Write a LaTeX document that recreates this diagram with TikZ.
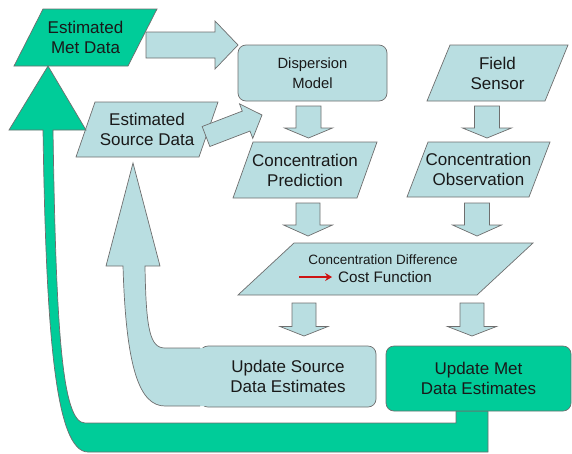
\documentclass[tikz,border=0pt]{standalone}
\usepackage{fontspec}
\setmainfont{Liberation Sans}
\usetikzlibrary{calc,backgrounds,arrows.meta}

\definecolor{paleblue}{RGB}{185,222,225}
\definecolor{mint}{RGB}{0,204,153}
\definecolor{edgegray}{RGB}{110,110,110}
\definecolor{ink}{RGB}{25,25,25}
\definecolor{costred}{RGB}{205,20,20}

\tikzset{
  shapebox/.style={inner sep=0pt, outer sep=0pt, text=ink, align=center,
                   font=\fontsize{17}{20}\selectfont},
  roundbox/.style={shapebox, draw=edgegray, line width=0.7pt, rounded corners=8pt},
  outline/.style={draw=edgegray, line width=0.7pt, line join=miter},
  flow/.style={outline, fill=paleblue},
  loopgreen/.style={outline, fill=mint},
  costarrow/.style={draw=costred, line width=2.4pt, -{Stealth[length=7pt,width=8pt]}},
}

% parallelogram drawn round a rectangular node: node name, slant, fill
\newcommand\slantbox[3]{%
  \draw[outline, fill=#3] ($(#1.north west)+(#2,0)$) -- (#1.north east)
    -- ($(#1.south east)-(#2,0)$) -- (#1.south west) -- cycle;}

% straight block arrow: tail, tip, body half width, head half width, head length
\newcommand\blockarrow[5]{%
  \coordinate (bahead) at ($(#2)!#5!(#1)$);
  \draw[flow] ($(#1)!#3!90:(#2)$) -- ($(bahead)!#3!-90:(#1)$)
    -- ($(bahead)!#4!-90:(#1)$) -- (#2) -- ($(bahead)!#4!90:(#1)$)
    -- ($(bahead)!#3!90:(#1)$) -- ($(#1)!#3!-90:(#2)$) -- cycle;}

\begin{document}
\begin{tikzpicture}[x=1pt,y=-1pt]
\useasboundingbox (0,0) rectangle (572,453);

% green feedback loop from the met update back to the met data
\draw[loopgreen] (43,130) .. controls (46,330) and (55,452) .. (88,452)
  -- (488,452) -- (488,411) -- (456,411) -- (456,423) -- (85,423)
  .. controls (62,423) and (56,330) .. (53,130)
  -- (86,130) -- (48,66) -- (9,130) -- cycle;

% boxes
\node[shapebox, minimum width=143pt, minimum height=57pt] (met) at (85.5,37.5) {Estimated\\Met Data};
\node[shapebox, minimum width=142pt, minimum height=55pt] (src) at (147,129.5) {Estimated\\Source Data};
\node[roundbox, fill=paleblue, minimum width=149pt, minimum height=56pt,
      font=\fontsize{14.8}{20}\selectfont] (disp) at (312.5,73) {Dispersion\\Model};
\node[shapebox, minimum width=141pt, minimum height=56pt] (field) at (497.5,73) {Field\\Sensor};
\node[shapebox, minimum width=144pt, minimum height=56pt] (pred) at (305,170) {Concentration\\Prediction};
\node[shapebox, minimum width=143pt, minimum height=55pt] (obs) at (478.5,169.5) {Concentration\\Observation};
\node[shapebox, minimum width=295pt, minimum height=52pt] (diff) at (385.5,269) {};
\node[shapebox, font=\fontsize{13.5}{16}\selectfont] (difftop) at (383,260) {Concentration Difference};
\node[shapebox, font=\fontsize{15.2}{18}\selectfont] (cost) at (385,277) {Cost Function};
\node[roundbox, fill=paleblue, minimum width=176pt, minimum height=61pt] (usrc) at (288,376.5) {Update Source\\Data Estimates};
\node[roundbox, fill=mint, minimum width=185pt, minimum height=65pt] (umet) at (478.5,378.5) {Update Met\\Data Estimates};

\begin{scope}[on background layer]
  \slantbox{met}{29}{mint}
  \slantbox{src}{19}{paleblue}
  \slantbox{field}{23}{paleblue}
  \slantbox{pred}{20}{paleblue}
  \slantbox{obs}{21}{paleblue}
  \slantbox{diff}{56}{paleblue}
\end{scope}

% red arrow in front of the cost function
\draw[costarrow] ($(cost.west)+(-39,0)$) -- ($(cost.west)+(-6,0)$);

% arrow ends
\coordinate (metR) at (146,45);     \coordinate (dispL) at (238,45);
\coordinate (srcR) at (206,136.5);  \coordinate (dispB) at (262,115);
\coordinate (dispS) at (308.5,106); \coordinate (predN) at (308.5,138);
\coordinate (fieldS) at (487,106);  \coordinate (obsN) at (487,138);
\coordinate (predS) at (308,203);   \coordinate (diffNL) at (308,236);
\coordinate (obsS) at (477,203);    \coordinate (diffNR) at (477,236);
\coordinate (diffSL) at (304,303);  \coordinate (usrcN) at (304,336);
\coordinate (diffSR) at (472,303);  \coordinate (umetN) at (472,336);

\blockarrow{metR}{dispL}{13pt}{24pt}{23pt}
\blockarrow{srcR}{dispB}{10.7pt}{18.5pt}{17pt}
\blockarrow{dispS}{predN}{12.5pt}{24pt}{10pt}
\blockarrow{fieldS}{obsN}{12.5pt}{24.5pt}{10pt}
\blockarrow{predS}{diffNL}{12pt}{24.5pt}{11pt}
\blockarrow{obsS}{diffNR}{12.5pt}{24.5pt}{11pt}
\blockarrow{diffSL}{usrcN}{12pt}{24pt}{9.5pt}
\blockarrow{diffSR}{umetN}{12pt}{24.5pt}{9.5pt}

% blue return arrow from the source update back to the source data
\fill[paleblue] (210,348) -- (165,348) .. controls (150,348) and (146,330) .. (145,266)
  -- (160,266) -- (133,163) -- (106,266) -- (123,266)
  .. controls (126,370) and (140,406) .. (165,406) -- (210,406) -- cycle;
\draw[outline] (200,348) -- (165,348) .. controls (150,348) and (146,330) .. (145,266)
  -- (160,266) -- (133,163) -- (106,266) -- (123,266)
  .. controls (126,370) and (140,406) .. (165,406) -- (200,406);
\end{tikzpicture}
\end{document}
